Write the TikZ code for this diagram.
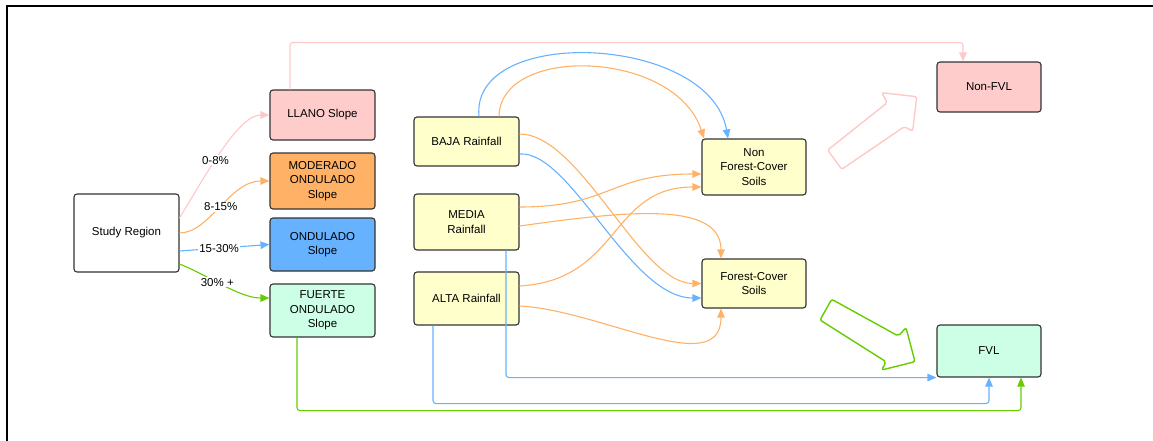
\documentclass[tikz,border=0pt]{standalone}
\usepackage{fontspec}
\setmainfont{Liberation Sans}
\usetikzlibrary{arrows.meta}
\definecolor{pk}{HTML}{FFCCCC}
\definecolor{pkl}{HTML}{FFC8C8}
\definecolor{org}{HTML}{FFB266}
\definecolor{blu}{HTML}{66B2FF}
\definecolor{grf}{HTML}{CCFFE6}
\definecolor{grl}{HTML}{66CC00}
\definecolor{yel}{HTML}{FFFFCC}
\definecolor{bd}{HTML}{333333}
\begin{document}
\begin{tikzpicture}[x=1pt,y=-1pt,
  box/.style={draw=bd, line width=1.1pt, rounded corners=3pt, minimum width=105pt,
    align=center, inner sep=0pt, text=black, font=\fontsize{11.5}{14.3}\selectfont},
  con/.style={line width=1.1pt, -{Triangle[length=9pt,width=7.5pt]}},
  lab/.style={fill=white, text=black, inner sep=0.8pt, font=\fontsize{11.5}{14}\selectfont},
  bigarrow/.style={line width=1.4pt, rounded corners=2pt, line join=round}]
\useasboundingbox (0,0) rectangle (1153,440);
\draw[line width=2.5pt] (7,441) -- (7,6) -- (1154,6);

\node[box, fill=white, minimum height=78pt] (sr) at (126.5,233) {Study Region};
\node[box, fill=pk, minimum height=50pt] (llano) at (322.5,115) {LLANO Slope};
\node[box, fill=org, minimum height=56pt] (mod) at (322.5,181) {MODERADO\\ONDULADO\\Slope};
\node[box, fill=blu, minimum height=53pt] (ond) at (322.5,244.5) {ONDULADO\\Slope};
\node[box, fill=grf, minimum height=53pt] (fue) at (322.5,310.5) {FUERTE\\ONDULADO\\Slope};
\node[box, fill=yel, minimum height=49pt] (baja) at (466.5,141.5) {BAJA Rainfall};
\node[box, fill=yel, minimum height=56pt] (media) at (466.5,222) {MEDIA\\Rainfall};
\node[box, fill=yel, minimum height=53pt] (alta) at (466.5,298.5) {ALTA Rainfall};
\node[box, fill=yel, minimum width=104pt, minimum height=56pt] (nfc) at (754,167) {Non\\Forest-Cover\\Soils};
\node[box, fill=yel, minimum width=104pt, minimum height=49pt] (fc) at (754,283.5) {Forest-Cover\\Soils};
\node[box, fill=pk, minimum width=104pt, minimum height=50pt] (nfvl) at (989,87) {Non-FVL};
\node[box, fill=grf, minimum width=104pt, minimum height=52pt] (fvl) at (989,351) {FVL};

% study region edges
\draw[con, pkl] ([yshift=15pt]sr.east) .. controls +(30,-50) and +(-30,0) .. (llano.west)
  node[lab, pos=0.4] {0-8\%};
\draw[con, org] (sr.east) .. controls +(30,0) and +(-40,0) .. (mod.west)
  node[lab, pos=0.5] {8-15\%};
\draw[con, blu] ([yshift=-18pt]sr.east) -- (ond.west) node[lab, pos=0.44] {15-30\%};
\draw[con, grl] ([yshift=-31pt]sr.east) .. controls +(30,12) and +(-30,0) .. ([yshift=12.5pt]fue.west)
  node[lab, pos=0.42] {30\% +};

% orthogonal connectors
\draw[con, pkl, rounded corners=3pt] ([xshift=-32.5pt]llano.north) -- ++(0,-47) -| ([xshift=-26pt]nfvl.north);
\draw[con, grl, rounded corners=3pt] ([xshift=-25.5pt]fue.south) -- ++(0,73) -| ([xshift=32pt]fvl.south);
\draw[con, blu, rounded corners=3pt] ([xshift=39.5pt]media.south) |- (fvl.south west);
\draw[con, blu, rounded corners=3pt] ([xshift=-33.5pt]alta.south) -- ++(0,78) -| (fvl.south);

% rainfall connectors
\draw[con, blu] ([xshift=12.5pt]baja.north) .. controls +(-9,-92) and +(-18,-104) .. ([xshift=-26pt]nfc.north);
\draw[con, org] ([xshift=32.5pt]baja.north) .. controls +(1,-72) and +(-29,-89) .. ([xshift=-50pt]nfc.north);
\draw[con, org] ([yshift=7.5pt]baja.east) .. controls +(61,0) and +(-62,0) .. (fc.west);
\draw[con, blu] ([yshift=-12.5pt]baja.east) .. controls +(51,-4) and +(-72,0) .. ([yshift=-14.5pt]fc.west);
\draw[con, org] ([yshift=15pt]media.east) .. controls +(91,0) and +(-92,0) .. ([yshift=-7pt]nfc.west);
\draw[con, org] ([yshift=-4pt]media.east) .. controls +(101,-14) and +(0,-59) .. ([xshift=-33pt]fc.north);
\draw[con, org] ([yshift=12.5pt]alta.east) .. controls +(101,-6) and +(-92,0) .. ([yshift=-20pt]nfc.west);
\draw[con, org] ([yshift=-7.5pt]alta.east) .. controls +(81,4) and +(0,72) .. ([xshift=-33pt]fc.south);

% big hollow arrows
\draw[bigarrow, pkl] (827.7,150) -- (887.3,102.7) -- (881.7,92.7) -- (916.7,96.7)
  -- (912.7,131) -- (904.3,126.7) -- (841.7,169.3) -- cycle;
\draw[bigarrow, grl] (831.7,299.3) -- (898.3,336) -- (906,327.7) -- (915,361.7)
  -- (881.7,370) -- (886,361.7) -- (820,320) -- cycle;
\end{tikzpicture}
\end{document}
